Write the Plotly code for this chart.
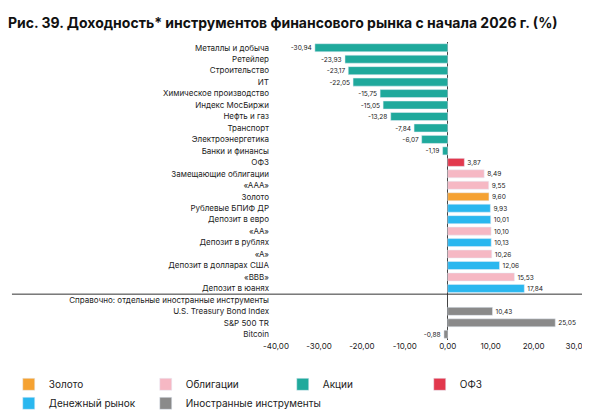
import plotly.graph_objects as go

categories = ["Металлы и добыча", "Ретейлер", "Строительство", "ИТ", "Химическое производство",
              "Индекс МосБиржи", "Нефть и газ", "Транспорт", "Электроэнергетика", "Банки и финансы",
              "ОФЗ", "Замещающие облигации", "«AAA»", "Золото", "Рублевые БПИФ ДР", "Депозит в евро",
              "«AA»", "Депозит в рублях", "«A»", "Депозит в долларах США", "«BBB»", "Депозит в юанях",
              "Справочно: отдельные иностранные инструменты", "U.S. Treasury Bond Index", "S&P 500 TR", "Bitcoin"]
values = [-30.94, -23.93, -23.17, -22.05, -15.75, -15.05, -13.28, -7.84, -6.07, -1.19,
          3.87, 8.49, 9.55, 9.60, 9.93, 10.01, 10.10, 10.13, 10.26, 12.06, 15.53, 17.84,
          None, 10.43, 25.05, -0.88]
groups = ["Акции"] * 10 + ["ОФЗ", "Облигации", "Облигации", "Золото", "Денежный рынок", "Денежный рынок",
          "Облигации", "Денежный рынок", "Облигации", "Денежный рынок", "Облигации", "Денежный рынок",
          None, "Иностранные инструменты", "Иностранные инструменты", "Иностранные инструменты"]
legend_order = ["Золото", "Облигации", "Акции", "ОФЗ", "Денежный рынок", "Иностранные инструменты"]
colors = {"Золото": "#f5a232", "Облигации": "#f6b8c4", "Акции": "#1fa99c", "ОФЗ": "#e2384d",
          "Денежный рынок": "#2ab7ef", "Иностранные инструменты": "#8a8a8a"}

fig = go.Figure()
# пустая строка-заголовок, чтобы категория была на оси
fig.add_trace(go.Bar(x=[None], y=[categories[22]], orientation="h", showlegend=False))
for g in legend_order:
    ys = [c for c, gg in zip(categories, groups) if gg == g]
    xs = [v for v, gg in zip(values, groups) if gg == g]
    fig.add_trace(go.Bar(
        x=xs, y=ys, orientation="h", name=g, marker_color=colors[g],
        text=[f"{v:.2f}".replace(".", ",") for v in xs], textposition="outside",
        textfont=dict(size=9, color="#222"), cliponaxis=False, width=0.7))

fig.add_shape(type="line", xref="paper", yref="y", x0=-0.82, x1=1, y0=21.5, y1=21.5,
              line=dict(color="#333", width=1))

fig.update_layout(
    width=590, height=410, margin=dict(l=264, r=0, t=34, b=52),
    paper_bgcolor="white", plot_bgcolor="white",
    font=dict(family="Inter", size=8, color="#222"),
    title=dict(text="<b>Рис. 39. Доходность* инструментов финансового рынка с начала 2026 г. (%)</b>",
               x=0, xanchor="left", y=0.975, font=dict(size=14, color="#111")),
    barmode="overlay", bargap=0.3,
    legend=dict(orientation="h", x=-0.83, y=-0.1, xanchor="left", yanchor="top",
                font=dict(size=10), entrywidth=92, traceorder="normal"),
    xaxis=dict(range=[-40, 35], tickvals=[-40, -30, -20, -10, 0, 10, 20, 30],
               ticktext=["-40,00", "-30,00", "-20,00", "-10,00", "0,00", "10,00", "20,00", "30,00"],
               showgrid=False, zeroline=True, zerolinecolor="#444", zerolinewidth=1,
               tickfont=dict(size=8)),
    yaxis=dict(categoryorder="array", categoryarray=categories, autorange="reversed",
               showgrid=False, ticks="", ticklabelstandoff=6, tickfont=dict(size=8)),
)
fig.write_html("out.html")
